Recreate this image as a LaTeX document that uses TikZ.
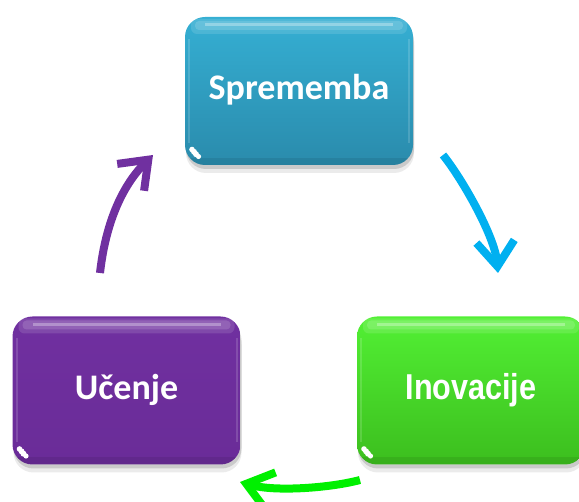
\documentclass[tikz,border=0pt]{standalone}
\usepackage{fontspec}
\setmainfont{Carlito}
\newfontfamily\arialfont[FakeStretch=0.85]{Liberation Sans}
\usetikzlibrary{arrows.meta}

\definecolor{tealtop}{HTML}{35AFD3}
\definecolor{tealbot}{HTML}{2A8BAC}
\definecolor{violet}{HTML}{7030A0}
\definecolor{violetbot}{HTML}{6A2C98}
\definecolor{greentop}{HTML}{52F034}
\definecolor{greenbot}{HTML}{3CBE1E}
\definecolor{skyarrow}{HTML}{00B0F0}
\definecolor{limearrow}{HTML}{00F000}

\tikzset{
  glossbox/.style={
    rounded corners=20pt, minimum width=228pt, minimum height=148pt,
    inner sep=0pt, text=white, text height=18pt, text depth=0pt,
    font=\bfseries\fontsize{36}{40}\selectfont,
    preaction={fill=black, opacity=0.08, transform canvas={xshift=1pt, yshift=-8pt}},
    preaction={fill=black, opacity=0.14, transform canvas={xshift=1pt, yshift=-4pt}},
    path picture={
      % soft sheen along the top edge
      \fill[white, opacity=0.12, rounded corners=6pt]
        ([xshift=6pt,yshift=-2pt]path picture bounding box.north west) rectangle
        ([xshift=-6pt,yshift=-17pt]path picture bounding box.north east);
      \fill[white, opacity=0.14, rounded corners=4pt]
        ([xshift=10pt,yshift=-4pt]path picture bounding box.north west) rectangle
        ([xshift=-10pt,yshift=-13pt]path picture bounding box.north east);
      \fill[white, opacity=0.30, sharp corners]
        ([xshift=20pt,yshift=-6.5pt]path picture bounding box.north west) rectangle
        ([xshift=-20pt,yshift=-9.5pt]path picture bounding box.north east);
      % light rim on the sides
      \fill[white, opacity=0.15, sharp corners]
        ([xshift=3pt,yshift=-22pt]path picture bounding box.north west) rectangle
        ([xshift=5pt,yshift=22pt]path picture bounding box.south west);
      \fill[white, opacity=0.15, sharp corners]
        ([xshift=-3pt,yshift=-22pt]path picture bounding box.north east) rectangle
        ([xshift=-5pt,yshift=22pt]path picture bounding box.south east);
      % darker lower edge
      \fill[black, opacity=0.08, sharp corners]
        ([yshift=7pt]path picture bounding box.south west) rectangle
        (path picture bounding box.south east);
      % glint in the lower left corner
      \fill[white, sharp corners]
        ([xshift=7pt,yshift=15.5pt]path picture bounding box.south west) circle (2.8pt)
        ([xshift=9pt,yshift=13.2pt]path picture bounding box.south west) circle (3pt)
        ([xshift=11pt,yshift=10.8pt]path picture bounding box.south west) circle (3pt)
        ([xshift=13.5pt,yshift=8.5pt]path picture bounding box.south west) circle (2.6pt);
    }
  },
  cyclearrow/.style={line width=8pt,
    -{Straight Barb[length=25pt,width=38pt]}}
}

\begin{document}
\begin{tikzpicture}[x=1pt,y=1pt]
\useasboundingbox (0,0) rectangle (579,502);

% the three stages
\node[glossbox, top color=tealtop, bottom color=tealbot] (change) at (299,411) {Sprememba};
\node[glossbox, top color=violet, bottom color=violetbot] (learn) at (126.5,111.5) {Učenje};
\node[glossbox, top color=greentop, bottom color=greenbot,
      font=\arialfont\bfseries\fontsize{36}{40}\selectfont] (innov) at (471,111.5) {Inovacije};

% arrow end points
\coordinate (c1) at (443,347);
\coordinate (c2) at (498,229);
\coordinate (i1) at (360,22);
\coordinate (i2) at (240,20);
\coordinate (l1) at (100,229);
\coordinate (l2) at (153,347);

% cycle arrows
\draw[cyclearrow, skyarrow] (c1) .. controls (463,322) and (495,265) .. (c2);
\draw[cyclearrow, limearrow] (i1) .. controls (330,14) and (275,10) .. (i2);
\draw[cyclearrow, violet] (l1) .. controls (108,300) and (136,330) .. (l2);
\end{tikzpicture}
\end{document}
